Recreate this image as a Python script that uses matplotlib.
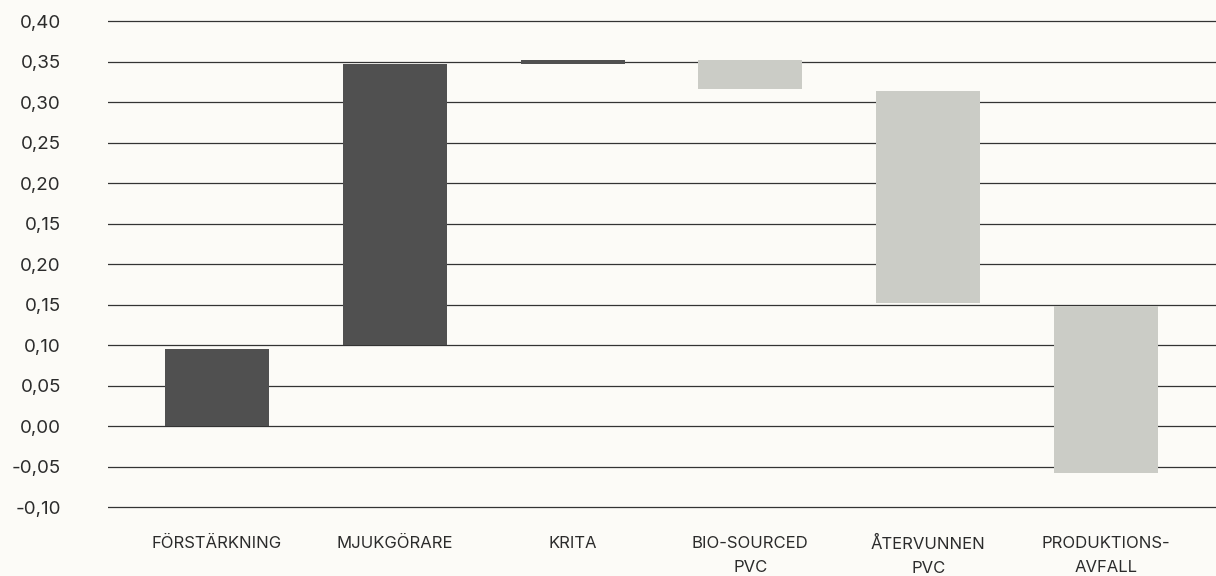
import matplotlib
matplotlib.use("Agg")

import matplotlib.pyplot as plt
from matplotlib.ticker import FixedLocator, FixedFormatter


CATEGORIES = [
    "FÖRSTÄRKNING",
    "MJUKGÖRARE",
    "KRITA",
    "BIO-SOURCED\nPVC",
    "ÅTERVUNNEN\nPVC",
    "PRODUKTIONS-\nAVFALL",
]

# waterfall segments: where each bar starts and where it ends
BAR_START = [0.000, 0.100, 0.448, 0.452, 0.414, 0.149]
BAR_END = [0.095, 0.448, 0.452, 0.417, 0.152, -0.058]

# light bars are the reductions
IS_REDUCTION = [False, False, False, True, True, True]

Y_TICKS = [-0.10, -0.05, 0.00, 0.05, 0.10, 0.15, 0.20,
           0.25, 0.30, 0.35, 0.40, 0.45, 0.50]
# tick labels exactly as printed in the source chart
Y_TICK_LABELS = ["-0,10", "-0,05", "0,00", "0,05", "0,10", "0,15", "0,20",
                 "0,15", "0,20", "0,25", "0,30", "0,35", "0,40"]


BG = "#fcfbf7"
DARK = "#505050"
LIGHT = "#cbccc6"
TEXT = "#2b2b2b"


def main():
    plt.rcParams["font.family"] = ["Inter", "DejaVu Sans"]

    fig = plt.figure(figsize=(12.16, 5.76), dpi=100, facecolor=BG)
    ax = fig.add_axes((108 / 1216, 1 - 523.2 / 576, 1 - 108 / 1216, (523.2 - 5.3) / 576))
    ax.set_facecolor(BG)

    xs = list(range(len(CATEGORIES)))
    heights = [end - start for start, end in zip(BAR_START, BAR_END)]
    colors = [LIGHT if red else DARK for red in IS_REDUCTION]

    ax.bar(
        xs,
        heights,
        bottom=BAR_START,
        width=0.585,
        color=colors,
        edgecolor="none",
        zorder=3,
    )

    ax.set_xlim(-0.613, 5.619)
    ax.set_ylim(-0.12, 0.52)

    ax.yaxis.set_major_locator(FixedLocator(Y_TICKS))
    ax.yaxis.set_major_formatter(FixedFormatter(Y_TICK_LABELS))
    ax.grid(axis="y", color="#333333", linewidth=0.9, zorder=1)
    ax.set_axisbelow(True)

    ax.set_xticks(xs)
    ax.set_xticklabels(CATEGORIES, linespacing=1.75)

    ax.tick_params(axis="y", length=0, pad=34, labelsize=13.5, labelcolor=TEXT)
    ax.tick_params(axis="x", length=0, pad=9, labelsize=12, labelcolor=TEXT)

    for spine in ax.spines.values():
        spine.set_visible(False)

    fig.savefig("out.png", dpi=100, facecolor=BG)
    plt.close(fig)


if __name__ == "__main__":
    main()
